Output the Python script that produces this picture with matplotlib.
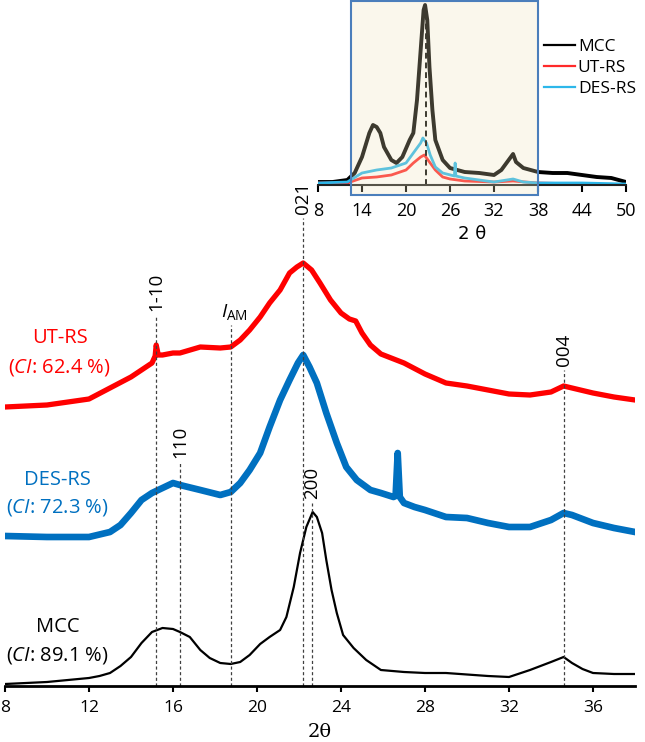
import numpy as np
import matplotlib
matplotlib.use("Agg")
import matplotlib.pyplot as plt
from matplotlib.patches import Rectangle

plt.rcParams['font.family'] = ['Open Sans', 'DejaVu Sans']
plt.rcParams['mathtext.fontset'] = 'custom'
plt.rcParams['mathtext.rm'] = 'Open Sans'
plt.rcParams['mathtext.it'] = 'Open Sans:italic'

# --- main panel data (2 theta, intensity a.u.) ---
mcc_x = [8, 10, 12, 12.5, 13, 13.5, 14, 14.5, 15, 15.5, 16, 16.33, 16.8, 17.3, 17.75, 18.25,
         18.75, 19.2, 19.65, 20.15, 20.6, 21.1, 21.4, 21.75, 22.05, 22.35, 22.65, 22.85, 23.1,
         23.3, 23.55, 23.8, 24.1, 24.6, 25.2, 25.9, 27, 28, 29, 31, 32, 33, 34, 34.6, 35,
         35.5, 36, 37, 38]
mcc_y = [2, 4, 8, 10, 13, 20, 29, 43, 54, 58, 57, 54, 49, 36, 28, 23,
         22, 24, 31, 42, 49, 56, 69, 99, 133, 159, 174, 169, 153,
         126, 96, 73, 51, 38, 26, 16, 14, 13, 13, 10, 9, 16, 24, 29, 23,
         17, 13, 12, 12]

des_x = [8, 10, 12, 13, 13.5, 14, 14.5, 15, 15.5, 16, 16.33, 17.3, 18.25, 18.75, 19.2, 19.65,
         20.15, 20.6, 21.1, 21.55, 21.95, 22.2, 22.5, 22.85, 23.3, 23.8, 24.25, 24.75, 25.4,
         25.9, 26.5, 26.6, 26.7, 26.8, 27, 27.5, 28, 29, 30, 31, 32, 33, 34, 34.6, 35, 36,
         37, 38]
des_y = [1, 0, 0, 5, 12, 24, 37, 44, 49, 54, 52, 47, 42, 45, 54, 67,
         84, 110, 137, 157, 174, 182, 170, 154, 124, 94, 70, 57, 47,
         44, 40, 41, 84, 40, 34, 30, 27, 20, 19, 14, 10, 10, 17, 24, 22, 14,
         9, 5]

ut_x = [8, 10, 12, 13, 14, 14.5, 15, 15.15, 15.2, 15.3, 15.5, 16, 16.33, 17.3, 18.25, 18.75,
        19.2, 19.65, 20.15, 20.6, 21.1, 21.55, 21.9, 22.2, 22.6, 23, 23.5, 24, 24.4, 24.7,
        25, 25.4, 25.9, 27, 28, 29, 30, 31, 32, 33, 34, 34.6, 35, 36, 37, 38]
ut_y = [0, 2, 8, 19, 30, 37, 44, 51, 62, 52, 52, 54, 54, 60, 59, 60,
        67, 77, 90, 104, 117, 134, 140, 144, 137, 124, 107, 94, 88, 86,
        74, 62, 53, 44, 33, 24, 21, 17, 13, 12, 15, 21, 19, 14, 10, 7]

offsets = {'MCC': 0, 'DES-RS': 149, 'UT-RS': 279}

# peak marker positions and labels
peak_pos = [15.2, 16.35, 18.75, 22.17, 22.63, 34.6]
peak_lab = ['1-10', '110', '$I_{\\rm AM}$', '021', '200', '004']
peak_top = [371, 224, 361, 468, 183, 316]

# --- inset data (full range) ---
in_mcc_x = [8, 10, 12, 13, 14, 15, 15.5, 16, 16.5, 17, 18, 18.7, 19.5, 20.5, 21, 21.5, 22,
            22.4, 22.6, 22.9, 23.2, 23.6, 24, 25, 26, 28, 30, 32, 33, 34, 34.6, 35, 36, 38,
            40, 42, 44, 46, 48, 50]
in_mcc_y = [3, 3, 5, 12, 28, 52, 60, 58, 52, 38, 25, 22, 28, 45, 52, 85, 135,
            175, 180, 165, 118, 75, 45, 25, 17, 13, 12, 10, 15, 25, 31, 23, 17, 13,
            12, 12, 10, 8, 7, 3]
in_ut_x = [8, 12, 14, 16, 18, 20, 21, 22, 22.5, 23, 24, 25, 26, 28, 32, 34.6, 38, 44, 50]
in_ut_y = [2, 2, 7, 8, 10, 15, 22, 28, 30, 25, 15, 8, 6, 4, 3, 4, 2, 1, 0]
in_des_x = [8, 12, 14, 16, 18, 20, 21, 22, 22.3, 22.8, 23.3, 24, 25, 26.6, 26.7, 26.8, 28,
            32, 34.6, 36, 38, 44, 50]
in_des_y = [2, 3, 12, 15, 17, 22, 32, 42, 47, 42, 30, 18, 12, 9, 22, 9, 7,
            3, 6, 3, 2, 2, 1]

fig = plt.figure(figsize=(6.45, 7.42), dpi=100)

# ---------------- main panel ----------------
ax = fig.add_axes([5 / 645, 56 / 742, 630 / 645, 686 / 742])
ax.plot(ut_x, np.array(ut_y) + offsets['UT-RS'], color='#FF0000', lw=3.8,
        solid_joinstyle='round')
ax.plot(des_x, np.array(des_y) + offsets['DES-RS'], color='#0070C0', lw=4.8,
        solid_joinstyle='round')
ax.plot(mcc_x, np.array(mcc_y) + offsets['MCC'], color='black', lw=1.6,
        solid_joinstyle='round')

for xp, lab, top in zip(peak_pos, peak_lab, peak_top):
    ax.plot([xp, xp], [0, top], ls=(0, (2.5, 2)), color='#404040', lw=0.9)
    if lab.startswith('$'):
        ax.text(xp + 0.2, top + 3, lab, ha='center', va='bottom', fontsize=14)
    else:
        ax.text(xp, top + 4, lab, ha='center', va='bottom', rotation=90, fontsize=13.5)

ax.text(10.6, 348, 'UT-RS', color='#FF0000', ha='center', va='center', fontsize=14.5)
ax.text(10.6, 319, '($\\it{CI}$: 62.4 %)', color='#FF0000', ha='center', va='center', fontsize=14.5)
ax.text(10.5, 206, 'DES-RS', color='#0070C0', ha='center', va='center', fontsize=14.5)
ax.text(10.5, 178, '($\\it{CI}$: 72.3 %)', color='#0070C0', ha='center', va='center', fontsize=14.5)
ax.text(10.5, 59, 'MCC', color='black', ha='center', va='center', fontsize=14.5)
ax.text(10.5, 31, '($\\it{CI}$: 89.1 %)', color='black', ha='center', va='center', fontsize=14.5)

ax.set_xlim(8, 38)
ax.set_ylim(0, 686)
ax.set_xticks(np.arange(8, 37, 4))
ax.set_yticks([])
for s in ['left', 'top', 'right']:
    ax.spines[s].set_visible(False)
ax.spines['bottom'].set_linewidth(2)
ax.tick_params(axis='x', direction='out', length=4, width=1.5, labelsize=12.5, pad=6)
ax.set_xlabel('2θ', family='DejaVu Serif', fontsize=14, labelpad=5)
ax.patch.set_alpha(0)

# ---------------- inset ----------------
ins = fig.add_axes([318 / 645, (742 - 185) / 742, 308 / 645, 185 / 742])
ins.plot(in_mcc_x, in_mcc_y, color='black', lw=2.8, label='MCC', solid_joinstyle='round')
ins.plot(in_ut_x, in_ut_y, color='#FF2A2A', lw=2.0, label='UT-RS', solid_joinstyle='round')
ins.plot(in_des_x, in_des_y, color='#2DB7EA', lw=2.0, label='DES-RS', solid_joinstyle='round')
ins.plot([22.7, 22.7], [0, 172], ls=(0, (3, 2)), color='black', lw=1.4)

ins.add_patch(Rectangle((12.5, -10), 25.5, 194, facecolor='#EEE3B8', alpha=0.26,
                        edgecolor='none', zorder=5, clip_on=False))
ins.add_patch(Rectangle((12.5, -10), 25.5, 194, facecolor='none',
                        edgecolor='#4A7EBB', lw=1.5, zorder=6, clip_on=False))

ins.set_xlim(8, 50)
ins.set_ylim(0, 185)
ins.set_xticks(np.arange(8, 51, 6))
ins.set_yticks([])
for s in ['left', 'top', 'right']:
    ins.spines[s].set_visible(False)
ins.spines['bottom'].set_linewidth(1.5)
ins.spines['bottom'].set_color('#222222')
ins.tick_params(axis='x', direction='out', length=5, width=1.5, labelsize=13, pad=7)
ins.set_xlabel('2 θ', family='DejaVu Sans', fontsize=13, labelpad=4)
ins.patch.set_alpha(0)
leg = ins.legend(loc='upper left', bbox_to_anchor=(544 / 645, 0.948),
                 bbox_transform=fig.transFigure, frameon=False, fontsize=12.5,
                 handlelength=1.8, handletextpad=0.15, labelspacing=0.3,
                 borderpad=0, borderaxespad=0)
for ln in leg.get_lines():
    ln.set_linewidth(1.6)

fig.savefig('out.png', dpi=100)
